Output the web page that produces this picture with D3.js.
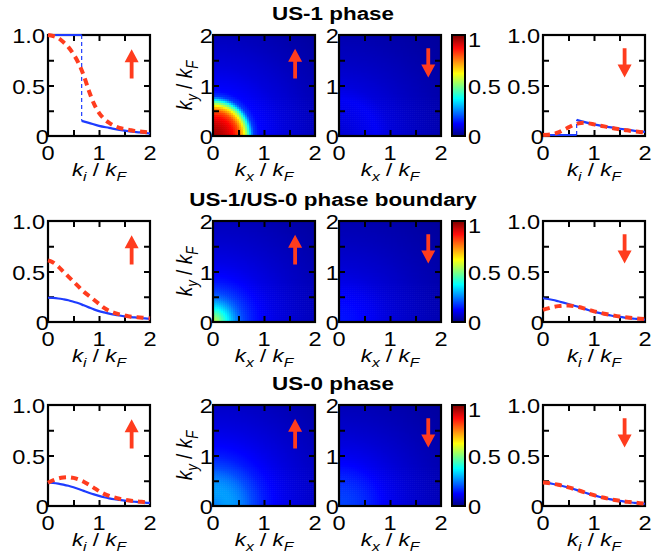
<!DOCTYPE html>
<html>
<head>
<meta charset="utf-8">
<script src="https://cdn.jsdelivr.net/npm/d3@7"></script>
<style>
body { margin: 0; background: #fff; }
text { font-family: "Liberation Sans", Arial, Helvetica, sans-serif; }
</style>
</head>
<body>
<script>
// ---- data ----
const kGrid = [0, 0.1, 0.2, 0.3, 0.4, 0.5, 0.6, 0.7, 0.8, 0.9, 1.0, 1.1, 1.2, 1.3, 1.4, 1.5, 1.6, 1.7, 1.8, 1.9, 2.0];

// US-1 phase: blue has a jump at kStep
const kStep = 0.66;
const stepK = [0, 0.66];
const tailK = [0.66, 0.8, 1.0, 1.2, 1.4, 1.6, 1.8, 2.0];
const blueUS1upHead = [1.0, 1.0];
const blueUS1upTail = [0.15, 0.13, 0.10, 0.08, 0.06, 0.045, 0.035, 0.025];
const redUS1up = [1.00, 0.99, 0.97, 0.93, 0.88, 0.81, 0.72, 0.60, 0.45, 0.32, 0.23, 0.17, 0.13, 0.10, 0.08, 0.07, 0.06, 0.05, 0.045, 0.04, 0.035];
const blueUS1dnHead = [0.01, 0.01];
const blueUS1dnTail = [0.16, 0.14, 0.115, 0.095, 0.08, 0.065, 0.05, 0.04];
const redUS1dn = [0.01, 0.012, 0.02, 0.035, 0.06, 0.085, 0.11, 0.125, 0.13, 0.125, 0.115, 0.105, 0.095, 0.085, 0.075, 0.067, 0.06, 0.052, 0.045, 0.04, 0.035];

// US-1/US-0 boundary
const blueBup = [0.24, 0.238, 0.233, 0.225, 0.215, 0.2, 0.185, 0.165, 0.145, 0.125, 0.108, 0.095, 0.083, 0.073, 0.064, 0.056, 0.05, 0.045, 0.04, 0.035, 0.03];
const redBup = [0.61, 0.59, 0.55, 0.50, 0.45, 0.40, 0.35, 0.30, 0.26, 0.22, 0.18, 0.14, 0.11, 0.09, 0.075, 0.065, 0.055, 0.05, 0.045, 0.04, 0.035];
const blueBdn = [0.235, 0.228, 0.218, 0.205, 0.192, 0.178, 0.163, 0.148, 0.132, 0.117, 0.103, 0.09, 0.078, 0.068, 0.058, 0.05, 0.043, 0.037, 0.032, 0.027, 0.023];
const redBdn = [0.12, 0.135, 0.148, 0.157, 0.162, 0.163, 0.158, 0.148, 0.135, 0.12, 0.105, 0.093, 0.082, 0.072, 0.063, 0.055, 0.048, 0.042, 0.037, 0.032, 0.028];

// US-0 phase
const blueUS0up = [0.23, 0.228, 0.222, 0.212, 0.2, 0.185, 0.168, 0.15, 0.132, 0.115, 0.1, 0.087, 0.076, 0.067, 0.06, 0.053, 0.047, 0.042, 0.037, 0.033, 0.03];
const redUS0up = [0.23, 0.255, 0.272, 0.282, 0.285, 0.278, 0.262, 0.24, 0.212, 0.18, 0.148, 0.12, 0.1, 0.085, 0.072, 0.062, 0.054, 0.048, 0.043, 0.038, 0.034];
const blueUS0dn = [0.23, 0.226, 0.218, 0.208, 0.196, 0.183, 0.168, 0.152, 0.136, 0.12, 0.105, 0.091, 0.079, 0.068, 0.058, 0.05, 0.043, 0.037, 0.031, 0.026, 0.022];
const redUS0dn = [0.232, 0.228, 0.22, 0.21, 0.198, 0.185, 0.17, 0.154, 0.138, 0.122, 0.107, 0.093, 0.081, 0.07, 0.06, 0.052, 0.045, 0.039, 0.033, 0.028, 0.024];

// radial profiles of the 2D maps, value vs |k|/kF
const rGrid = [0, 0.1, 0.2, 0.3, 0.4, 0.5, 0.6, 0.7, 0.75, 0.8, 0.9, 1.0, 1.2, 1.4, 1.6, 1.8, 2.0, 2.4, 2.83];
const mapUS1up = [0.97, 0.96, 0.94, 0.91, 0.87, 0.80, 0.66, 0.42, 0.28, 0.18, 0.13, 0.12, 0.105, 0.09, 0.08, 0.07, 0.06, 0.045, 0.03];
const mapUS1dn = [0.08, 0.085, 0.09, 0.095, 0.1, 0.105, 0.11, 0.115, 0.115, 0.11, 0.1, 0.09, 0.08, 0.07, 0.062, 0.055, 0.048, 0.037, 0.028];
const mapBup = [0.56, 0.52, 0.44, 0.36, 0.29, 0.23, 0.19, 0.165, 0.155, 0.145, 0.13, 0.118, 0.1, 0.088, 0.077, 0.068, 0.06, 0.045, 0.033];
const mapBdn = [0.14, 0.14, 0.137, 0.133, 0.128, 0.122, 0.116, 0.11, 0.106, 0.102, 0.095, 0.088, 0.078, 0.07, 0.062, 0.055, 0.049, 0.038, 0.028];
const mapUS0up = [0.24, 0.26, 0.275, 0.28, 0.275, 0.26, 0.24, 0.215, 0.2, 0.19, 0.17, 0.15, 0.125, 0.107, 0.093, 0.082, 0.072, 0.055, 0.038];
const mapUS0dn = [0.19, 0.19, 0.185, 0.18, 0.172, 0.163, 0.153, 0.142, 0.137, 0.131, 0.12, 0.11, 0.095, 0.082, 0.072, 0.063, 0.055, 0.042, 0.03];

const titles = ["US-1 phase", "US-1/US-0 phase boundary", "US-0 phase"];
const lineXTicks = ["0", "1", "2"];
const lineYTicks = ["0", "0.5", "1.0"];
const mapTicks = ["0", "1", "2"];
const cbTicks = ["0", "0.5", "1"];

// ---- layout ----
const W = 667, H = 554;
const rowTop = [35, 221, 405];
const pw = 102, ph = 101;
const colLeft = { lineL: 48, mapUp: 213, mapDn: 339, lineR: 543 };
const cbX = 452, cbW = 13;
const blue = "#1e3cff", red = "#ff3c1e";
const fs = 20;      // tick labels
const sx = 1.18;    // the figure's fonts are drawn wide

const jet = d3.scaleLinear()
    .domain([0, 0.125, 0.375, 0.625, 0.875, 1])
    .range(["#00007f", "#0000ff", "#00ffff", "#ffff00", "#ff0000", "#7f0000"])
    .clamp(true);

const svg = d3.select("body").append("svg")
    .attr("width", W)
    .attr("height", H);

const pairs = (ks, vs) => ks.map((k, i) => [k, vs[i]]);

// text drawn with horizontal stretch around its anchor
function txt(g, x, y, s, size, anchor) {
    return g.append("text")
        .attr("transform", `translate(${x},${y}) scale(${sx},1)`)
        .attr("text-anchor", anchor || "start")
        .attr("font-size", size)
        .text(s);
}

function inwardTicks(g, x, y, xt, yt) {
    const tl = 6;
    g.append("g").attr("transform", `translate(0,${ph})`)
        .call(d3.axisBottom(x).tickValues(xt).tickSize(-tl).tickFormat(""));
    g.append("g")
        .call(d3.axisTop(x).tickValues(xt).tickSize(-tl).tickFormat(""));
    g.append("g")
        .call(d3.axisLeft(y).tickValues(yt).tickSize(-tl).tickFormat(""));
    g.append("g").attr("transform", `translate(${pw},0)`)
        .call(d3.axisRight(y).tickValues(yt).tickSize(-tl).tickFormat(""));
    g.selectAll(".domain").remove();
    g.selectAll(".tick line").attr("stroke", "#000").attr("stroke-width", 2);
}

function frame(g) {
    g.append("rect")
        .attr("width", pw).attr("height", ph)
        .attr("fill", "none").attr("stroke", "#000").attr("stroke-width", 2.2);
}

function kTitle(t, sub) {
    t.append("tspan").attr("font-style", "italic").text("k");
    t.append("tspan").attr("font-style", "italic").attr("font-size", "0.7em").attr("dy", 5).text(sub);
    t.append("tspan").attr("dy", -5).text(" / ");
    t.append("tspan").attr("font-style", "italic").text("k");
    t.append("tspan").attr("font-style", "italic").attr("font-size", "0.7em").attr("dy", 5).text("F");
}

function arrow(g, x0, y0, y1) {
    // y0 tail, y1 tip (pixels)
    const dir = y1 < y0 ? -1 : 1;
    const hl = 13, hw = 7, sw = 1.9;
    const yb = y1 - dir * hl;
    g.append("path")
        .attr("d", `M${x0 - sw},${y0} L${x0 - sw},${yb} L${x0 - hw},${yb} L${x0},${y1} L${x0 + hw},${yb} L${x0 + sw},${yb} L${x0 + sw},${y0} Z`)
        .attr("fill", red);
}

function xLabels(g, x, vals) {
    vals.forEach(d => txt(g, x(+d), ph + 24, d, fs, "middle"));
}

function axisTitle(g, sub) {
    const t = g.append("text")
        .attr("transform", `translate(${pw / 2},${ph + 40}) scale(${sx},1)`)
        .attr("text-anchor", "middle").attr("font-size", 19);
    kTitle(t, sub);
}

function linePanel(r, col, segs, jump, up) {
    const g = svg.append("g").attr("transform", `translate(${colLeft[col]},${rowTop[r]})`);
    const x = d3.scaleLinear().domain([0, 2]).range([0, pw]);
    const y = d3.scaleLinear().domain([0, 1]).range([ph, 0]);
    frame(g);
    inwardTicks(g, x, y, [0.5, 1, 1.5], [0.25, 0.5, 0.75]);

    const line = d3.line().x(d => x(d[0])).y(d => y(d[1])).curve(d3.curveMonotoneX);
    if (jump) {
        g.append("path")
            .attr("d", d3.line()([[x(kStep), y(jump[0])], [x(kStep), y(jump[1])]]))
            .attr("stroke", blue).attr("stroke-width", 1.2).attr("stroke-dasharray", "4,3").attr("fill", "none");
    }
    segs.blue.forEach(s => {
        g.append("path").attr("d", line(s))
            .attr("fill", "none").attr("stroke", blue).attr("stroke-width", 2.2);
    });
    g.append("path").attr("d", line(segs.red))
        .attr("fill", "none").attr("stroke", red).attr("stroke-width", 4)
        .attr("stroke-dasharray", "7,5");

    xLabels(g, x, lineXTicks);
    lineYTicks.forEach(d => txt(g, d === "0" ? 1 : -3, y(+d) + 8, d, fs, "end"));
    axisTitle(g, "i");

    if (up) arrow(g, x(1.64), y(0.57), y(0.86));
    else arrow(g, x(1.6), y(0.87), y(0.58));
}

function mapPanel(r, col, prof, up, withYTitle) {
    const g = svg.append("g").attr("transform", `translate(${colLeft[col]},${rowTop[r]})`);
    const x = d3.scaleLinear().domain([0, 2]).range([0, pw]);
    const y = d3.scaleLinear().domain([0, 2]).range([ph, 0]);
    const val = d3.scaleLinear().domain(rGrid).range(prof).clamp(true);
    const n = 51, st = 2 / n;
    const cells = d3.range(n * n).map(i => ({ i: i % n, j: Math.floor(i / n) }));
    g.selectAll(".cell").data(cells).enter().append("rect")
        .attr("x", d => x(d.i * st))
        .attr("y", d => y((d.j + 1) * st))
        .attr("width", x(st) + 0.6)
        .attr("height", ph - y(st) + 0.6)
        .attr("fill", d => jet(val(Math.hypot((d.i + 0.5) * st, (d.j + 0.5) * st))));
    frame(g);
    inwardTicks(g, x, y, [0.5, 1, 1.5], [0.5, 1, 1.5]);
    xLabels(g, x, mapTicks);
    mapTicks.forEach(d => txt(g, 0, y(+d) + 8, d, fs, "end"));
    axisTitle(g, "x");
    if (withYTitle) {
        const ty = g.append("text")
            .attr("transform", `translate(-21,${ph / 2}) scale(${sx},1) rotate(-90)`)
            .attr("text-anchor", "middle").attr("font-size", 19);
        kTitle(ty, "y");
    }
    if (up) arrow(g, x(1.61), y(1.14), y(1.73));
    else arrow(g, x(1.75), y(1.74), y(1.16));
}

function colorbar(r) {
    const g = svg.append("g").attr("transform", `translate(${cbX},${rowTop[r]})`);
    const y = d3.scaleLinear().domain([0, 1]).range([ph, 0]);
    const steps = d3.range(0, 1, 0.01);
    g.selectAll(".cb").data(steps).enter().append("rect")
        .attr("x", 0).attr("width", cbW)
        .attr("y", d => y(d + 0.01))
        .attr("height", y(0) - y(0.01) + 0.5)
        .attr("fill", d => jet(d + 0.005));
    g.append("rect").attr("width", cbW).attr("height", ph)
        .attr("fill", "none").attr("stroke", "#000").attr("stroke-width", 2);
    cbTicks.forEach(d => txt(g, cbW + 3, Math.max(y(+d) + 8, 12), d, fs, "start"));
}

const rows = [
    {
        upSegs: { blue: [pairs(stepK, blueUS1upHead), pairs(tailK, blueUS1upTail)], red: pairs(kGrid, redUS1up) },
        dnSegs: { blue: [pairs(stepK, blueUS1dnHead), pairs(tailK, blueUS1dnTail)], red: pairs(kGrid, redUS1dn) },
        upJump: [blueUS1upHead[1], blueUS1upTail[0]],
        dnJump: [blueUS1dnHead[1], blueUS1dnTail[0]],
        mapUp: mapUS1up, mapDn: mapUS1dn
    },
    {
        upSegs: { blue: [pairs(kGrid, blueBup)], red: pairs(kGrid, redBup) },
        dnSegs: { blue: [pairs(kGrid, blueBdn)], red: pairs(kGrid, redBdn) },
        mapUp: mapBup, mapDn: mapBdn
    },
    {
        upSegs: { blue: [pairs(kGrid, blueUS0up)], red: pairs(kGrid, redUS0up) },
        dnSegs: { blue: [pairs(kGrid, blueUS0dn)], red: pairs(kGrid, redUS0dn) },
        mapUp: mapUS0up, mapDn: mapUS0dn
    }
];

rows.forEach((row, r) => {
    txt(svg, 333, rowTop[r] - 15, titles[r], 19, "middle").attr("font-weight", "bold");
    linePanel(r, "lineL", row.upSegs, row.upJump, true);
    mapPanel(r, "mapUp", row.mapUp, true, true);
    mapPanel(r, "mapDn", row.mapDn, false, false);
    colorbar(r);
    linePanel(r, "lineR", row.dnSegs, row.dnJump, false);
});
</script>
</body>
</html>
